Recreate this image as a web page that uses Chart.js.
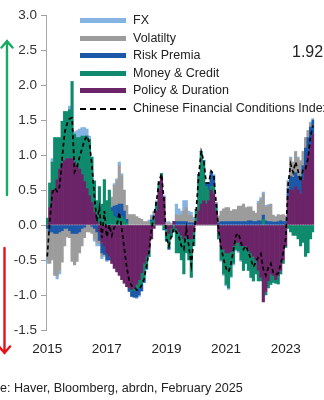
<!DOCTYPE html>
<html>
<head>
<meta charset="utf-8">
<script src="https://cdn.jsdelivr.net/npm/chart.js@4.4.1/dist/chart.umd.min.js"></script>
<style>
  body { margin: 0; width: 324px; height: 400px; overflow: hidden; position: relative; background: #fff;
         font-family: "Liberation Sans", Arial, sans-serif; color: #222; }
  #fci { position: absolute; left: 0; top: 0; }
  .legend { position: absolute; left: 80px; top: 12px; font-size: 12.5px; line-height: 17.5px; white-space: nowrap; }
  .legend div { position: relative; padding-left: 53px; }
  .legend span { position: absolute; left: 0; top: 6px; width: 46px; height: 5px; }
  .legend span.dash { height: 0; top: 8px; border-top: 2px dashed #000; }
  .latest { position: absolute; left: 292px; top: 43px; font-size: 16px; }
  .source { position: absolute; left: -33px; top: 381px; font-size: 12.6px; white-space: nowrap; }
  svg.arrows { position: absolute; left: 0; top: 0; }
</style>
</head>
<body>
<canvas id="fci" width="324" height="362"></canvas>

<svg class="arrows" width="20" height="400">
  <g fill="none" stroke-width="2.4" stroke-linecap="round">
    <path d="M7 195 L7 41 M1.5 47.5 L7 41 L12.5 47.5" stroke="#1aa865"/>
    <path d="M4.5 248 L4.5 353 M-1 346.5 L4.5 353 L10 346.5" stroke="#e3121b"/>
  </g>
</svg>

<div class="legend">
  <div><span style="background:#86b4e2"></span>FX</div>
  <div><span style="background:#9c9c9c"></span>Volatilty</div>
  <div><span style="background:#1c58a8"></span>Risk Premia</div>
  <div><span style="background:#0f8a6c"></span>Money &amp; Credit</div>
  <div><span style="background:#6b2468"></span>Policy &amp; Duration</div>
  <div><span class="dash"></span>Chinese Financial Conditions Index</div>
</div>
<div class="latest">1.92</div>
<div class="source">Source: Haver, Bloomberg, abrdn, February 2025</div>

<script>
// monthly contributions to the index, Jan 2015 onwards (one row per year)
const policy = [
  0.0, 0.25, 0.5, 0.5, 0.65, 0.8, 0.88, 0.92, 0.95, 0.95, 0.95, 0.9,
  0.85, 0.8, 0.72, 0.62, 0.52, 0.42, 0.32, 0.18, 0.05, -0.1, -0.25, -0.3,
  -0.4, -0.45, -0.55, -0.62, -0.67, -0.72, -0.78, -0.83, -0.88, -0.9, -0.92, -0.9,
  -0.85, -0.78, -0.68, -0.55, -0.45, -0.35, -0.2, -0.05, 0.2, 0.5, 0.68, 0.4,
  -0.05, -0.12, -0.05, 0.05, -0.05, -0.1, -0.15, -0.2, -0.15, -0.2, -0.2, -0.1,
  0.05, 0.2, 0.3, 0.35, 0.3, 0.35, 0.5, 0.45, 0.2, -0.1, -0.3, -0.35,
  -0.4, -0.4, -0.38, -0.3, -0.25, -0.25, -0.3, -0.3, -0.3, -0.35, -0.4, -0.45,
  -0.5, -0.65, -0.75, -1.1, -0.95, -0.8, -0.7, -0.72, -0.78, -0.72, -0.65, -0.5,
  -0.3, 0.4, 0.5, 0.5, 0.55, 0.5, 0.45, 0.65, 0.85, 1.0, 1.15, 1.3
];
const moneyCredit = [
  0.1, 0.35, 0.4, 0.75, 0.6, 0.45, 0.6, 0.7, 0.67, 0.7, 1.1, 0.4,
  0.4, 0.45, 0.55, 0.65, 0.75, 0.8, 0.65, 0.45, 0.3, 0.55, 0.3, 0.65,
  0.35, 0.5, 0.2, 0.12, 0.1, 0.1, 0.12, 0.08, 0.03, 0.0, -0.02, -0.03,
  -0.06, -0.12, -0.18, -0.22, -0.15, -0.1, 0.05, 0.1, 0.1, 0.08, 0.05, -0.05,
  -0.15, -0.2, -0.12, -0.1, -0.35, -0.3, -0.35, -0.5, -0.25, -0.3, -0.55, -0.2,
  0.15, 0.5, 0.75, 0.55, 0.25, 0.15, 0.05, 0.1, 0.05, -0.1, -0.2, -0.35,
  -0.45, -0.5, -0.35, -0.25, -0.1, -0.12, -0.2, -0.35, -0.25, -0.3, -0.35, -0.35,
  -0.2, -0.15, -0.05, 0.08, -0.05, -0.1, -0.15, -0.1, -0.05, -0.12, -0.05, -0.05,
  -0.02, -0.05, -0.1, -0.15, -0.15, -0.2, -0.3, -0.25, -0.45, -0.4, -0.2, -0.1
];
const riskPremia = [
  -0.05, -0.1, -0.1, -0.12, -0.12, -0.1, -0.08, -0.05, -0.05, -0.08, -0.12, -0.12,
  -0.12, -0.1, -0.05, -0.03, 0.0, 0.0, -0.02, -0.05, -0.1, -0.12, -0.15, -0.12,
  -0.1, -0.05, 0.05, 0.15, 0.18, 0.2, 0.18, 0.12, 0.05, -0.05, -0.08, -0.1,
  -0.12, -0.1, -0.08, -0.05, -0.03, 0.0, 0.02, 0.03, 0.02, 0.02, 0.0, -0.02,
  -0.03, -0.03, 0.0, 0.0, 0.05, 0.05, 0.05, 0.05, 0.05, 0.03, 0.03, 0.03,
  0.02, 0.02, 0.0, 0.02, 0.05, 0.1, 0.2, 0.15, 0.05, 0.03, 0.05, 0.05,
  0.05, 0.05, 0.05, 0.05, 0.05, 0.05, 0.05, 0.05, 0.05, 0.06, 0.06, 0.05,
  0.05, 0.06, 0.06, 0.06, 0.06, 0.05, 0.05, 0.04, 0.04, 0.05, 0.06, 0.05,
  0.05, 0.12, 0.2, 0.18, 0.2, 0.2, 0.2, 0.2, 0.25, 0.25, 0.25, 0.2
];
const volatility = [
  -0.45, -0.45, -0.4, -0.6, -0.6, -0.55, -0.45, -0.25, -0.12, -0.1, -0.4, -0.45,
  -0.4, -0.3, -0.25, -0.15, -0.1, -0.1, -0.1, -0.15, -0.15, -0.05, -0.05, 0.0,
  0.0, 0.0, 0.15, 0.3, 0.35, 0.55, 0.4, 0.3, 0.2, 0.15, 0.15, 0.15,
  0.12, 0.1, 0.08, 0.05, 0.05, 0.05, 0.05, 0.05, 0.02, 0.02, 0.0, 0.0,
  0.02, 0.03, 0.02, 0.0, 0.1, 0.08, 0.1, 0.15, 0.2, 0.12, 0.1, 0.05,
  0.0, 0.0, 0.0, 0.0, 0.0, 0.0, 0.0, 0.0, 0.02, 0.1, 0.15, 0.18,
  0.2, 0.2, 0.15, 0.17, 0.17, 0.22, 0.22, 0.25, 0.2, 0.2, 0.2, 0.15,
  0.12, 0.25, 0.3, 0.3, 0.2, 0.22, 0.25, 0.1, 0.08, 0.1, 0.08, 0.1,
  0.08, 0.1, 0.25, 0.22, 0.3, 0.25, 0.25, 0.2, 0.15, 0.1, 0.05, 0.0
];
const fx = [
  -0.05, 0.0, 0.05, 0.0, -0.05, -0.05, 0.0, 0.0, 0.0, 0.05, 0.0, 0.03,
  0.1, 0.12, 0.12, 0.12, 0.1, 0.05, 0.0, -0.03, -0.05, -0.03, -0.03, -0.03,
  -0.02, 0.0, 0.0, 0.02, 0.03, 0.05, 0.03, 0.0, 0.0, 0.0, 0.0, 0.0,
  -0.02, -0.02, 0.0, 0.0, 0.0, 0.02, 0.02, 0.02, 0.0, 0.0, 0.0, 0.02,
  0.02, 0.02, 0.0, 0.0, 0.15, 0.1, 0.05, 0.15, 0.1, 0.05, 0.05, 0.03,
  0.0, 0.0, 0.0, 0.0, 0.0, 0.0, 0.02, 0.02, 0.0, 0.0, -0.02, -0.02,
  -0.02, -0.02, -0.02, -0.02, -0.02, -0.02, -0.02, 0.0, 0.0, 0.0, 0.0, 0.0,
  0.0, 0.03, 0.03, 0.03, 0.02, 0.02, 0.0, 0.0, 0.0, 0.0, 0.0, 0.0,
  0.0, 0.02, 0.02, 0.0, 0.0, 0.02, 0.02, 0.0, 0.0, 0.0, 0.02, 0.02
];
// Chinese Financial Conditions Index (dashed line)
const cfci = [
  -0.45, 0.05, 0.45, 0.53, 0.48, 0.55, 0.95, 1.32, 1.45, 1.52, 1.53, 0.76,
  0.83, 0.97, 1.09, 1.21, 1.27, 1.17, 0.85, 0.4, 0.05, 0.25, -0.18, 0.2,
  -0.17, 0.0, -0.15, -0.03, -0.01, 0.18, -0.05, -0.33, -0.6, -0.8, -0.87, -0.88,
  -0.93, -0.92, -0.86, -0.77, -0.58, -0.38, -0.06, 0.15, 0.34, 0.62, 0.73, 0.35,
  -0.19, -0.3, -0.15, -0.05, -0.1, -0.17, -0.3, -0.35, -0.05, -0.3, -0.57, -0.19,
  0.22, 0.72, 1.05, 0.92, 0.6, 0.6, 0.77, 0.72, 0.32, -0.07, -0.32, -0.49,
  -0.62, -0.67, -0.55, -0.35, -0.15, -0.12, -0.25, -0.35, -0.3, -0.39, -0.49, -0.6,
  -0.53, -0.46, -0.41, -0.63, -0.72, -0.61, -0.55, -0.68, -0.71, -0.69, -0.56, -0.4,
  -0.19, 0.59, 0.87, 0.75, 0.9, 0.77, 0.62, 0.8, 0.8, 0.95, 1.27, 1.42
];
const yearTicks = ['2015', '2017', '2019', '2021', '2023'];

const months = [];
for (let i = 0; i < policy.length; i++) {
    const y = 2015 + Math.floor(i / 12);
    months.push(y + '-' + String(i % 12 + 1).padStart(2, '0'));
}

function barSet(label, values, color) {
    return {
        type: 'bar',
        label: label,
        data: values,
        backgroundColor: color,
        borderWidth: 0,
        barPercentage: 1,
        categoryPercentage: 1,
        order: 1
    };
}

new Chart(document.getElementById('fci'), {
    data: {
        labels: months,
        datasets: [
            {
                type: 'line',
                label: 'Chinese Financial Conditions Index',
                data: cfci,
                borderColor: '#000',
                borderWidth: 1.7,
                borderDash: [4, 3],
                pointRadius: 0,
                tension: 0,
                stack: 'index',
                order: 0
            },
            // stacked outward from zero in this order
            barSet('Policy & Duration', policy, '#6b2468'),
            barSet('Money & Credit', moneyCredit, '#0f8a6c'),
            barSet('Risk Premia', riskPremia, '#1c58a8'),
            barSet('Volatilty', volatility, '#9c9c9c'),
            barSet('FX', fx, '#86b4e2')
        ]
    },
    options: {
        responsive: false,
        animation: false,
        layout: { padding: { top: 15, right: 0, bottom: 0, left: 0 } },
        plugins: {
            legend: { display: false },
            tooltip: { enabled: false }
        },
        scales: {
            x: {
                stacked: true,
                grid: { display: false, drawTicks: false },
                border: { display: false },
                ticks: {
                    autoSkip: false,
                    maxRotation: 0,
                    minRotation: 0,
                    padding: 11,
                    color: '#222',
                    font: { family: 'Liberation Sans', size: 13.5 },
                    callback: (v, i) => (i % 24 === 0 ? yearTicks[i / 24] : '')
                },
                afterFit: (s) => { s.height = 32; }
            },
            y: {
                stacked: true,
                min: -1.5,
                max: 3,
                grid: {
                    color: (c) => (c.tick && c.tick.value === 0 ? '#b5b5b5' : 'rgba(0,0,0,0)'),
                    tickColor: '#a0a0a0',
                    tickLength: 5
                },
                border: { display: true, color: '#a8a8a8' },
                ticks: {
                    stepSize: 0.5,
                    padding: 4,
                    color: '#333',
                    font: { family: 'Liberation Sans', size: 13.5 },
                    callback: (v) => v.toFixed(1)
                },
                afterFit: (s) => { s.width = 46; }
            }
        }
    }
});
</script>
</body>
</html>
